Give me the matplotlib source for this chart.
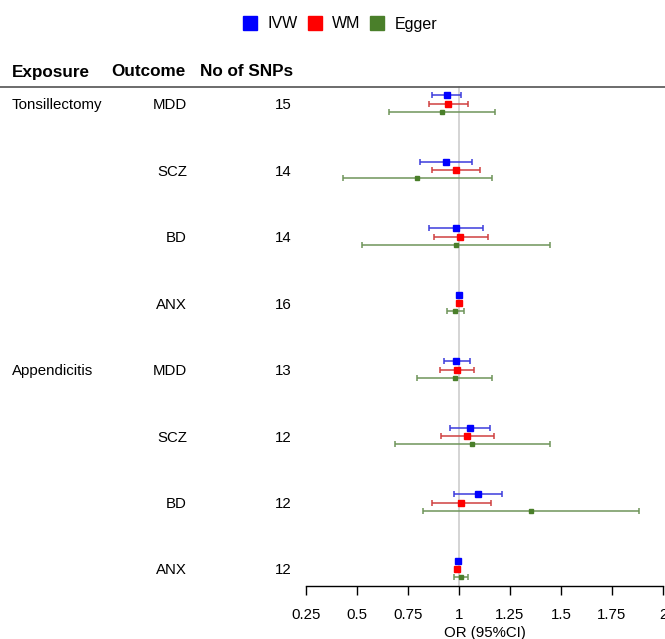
import matplotlib
matplotlib.use('Agg')
import matplotlib.pyplot as plt
from matplotlib.lines import Line2D
from matplotlib.transforms import blended_transform_factory, offset_copy

plt.rcParams['font.family'] = ['Liberation Sans', 'DejaVu Sans']

# --- data ---
exposures = ['Tonsillectomy', '', '', '', 'Appendicitis', '', '', '']
outcomes = ['MDD', 'SCZ', 'BD', 'ANX', 'MDD', 'SCZ', 'BD', 'ANX']
n_snps = [15, 14, 14, 16, 13, 12, 12, 12]

ivw_or = [0.94, 0.938, 0.984, 1.0, 0.987, 1.056, 1.095, 0.997]
ivw_lo = [0.87, 0.809, 0.851, 0.995, 0.925, 0.954, 0.977, 0.993]
ivw_hi = [1.01, 1.064, 1.116, 1.005, 1.052, 1.154, 1.209, 1.001]

wm_or = [0.945, 0.984, 1.007, 1.0, 0.992, 1.041, 1.012, 0.992]
wm_lo = [0.851, 0.866, 0.875, 0.995, 0.907, 0.914, 0.868, 0.985]
wm_hi = [1.043, 1.103, 1.141, 1.005, 1.074, 1.170, 1.159, 1.0]

egger_or = [0.918, 0.796, 0.984, 0.98, 0.979, 1.066, 1.355, 1.01]
egger_lo = [0.657, 0.431, 0.523, 0.94, 0.796, 0.686, 0.825, 0.975]
egger_hi = [1.176, 1.162, 1.445, 1.025, 1.162, 1.445, 1.881, 1.044]

methods = ['IVW', 'WM', 'Egger']
colors = ['#0000ff', '#ff0000', '#4a7f2a']
line_colors = ['#3c3cdc', '#d04040', '#6f955a']
offsets = [-0.125, 0.0, 0.125]
msizes = [3.9, 3.9, 3.4]

xticks = [0.25, 0.5, 0.75, 1, 1.25, 1.5, 1.75, 2]
xticklabels = ['0.25', '0.5', '0.75', '1', '1.25', '1.5', '1.75', '2']

W, H = 665, 639
fig = plt.figure(figsize=(W / 100, H / 100), dpi=100)

# forest axes placed in pixel terms
left, right, top, bottom = 306, 663, 86, 586
ax = fig.add_axes([left / W, 1 - bottom / H, (right - left) / W, (bottom - top) / H])

rows = list(range(len(outcomes)))
series = [(ivw_or, ivw_lo, ivw_hi), (wm_or, wm_lo, wm_hi), (egger_or, egger_lo, egger_hi)]

ax.axvline(1, color='#d4d4d4', lw=1.4, zorder=0)

for (est, lo, hi), c, lc, off, ms in zip(series, colors, line_colors, offsets, msizes):
    y = [r + off for r in rows]
    err = [[e - l for e, l in zip(est, lo)], [h - e for e, h in zip(est, hi)]]
    ax.errorbar(est, y, xerr=err, fmt='s', color=c, ecolor=lc, elinewidth=1.1,
                capsize=2.3, capthick=1.1, markersize=ms, zorder=3)

ax.set_xlim(0.25, 2)
ax.set_ylim(7.256, -0.266)
ax.set_xticks(xticks)
ax.set_xticklabels(xticklabels, fontsize=10.8)
ax.set_yticks([])
for s in ['top', 'left', 'right']:
    ax.spines[s].set_visible(False)
ax.spines['bottom'].set_linewidth(1.0)
ax.tick_params(axis='x', direction='out', length=6.5, width=1.0, pad=9.5)
ax.set_xlabel('OR (95%CI)', fontsize=10.8, labelpad=3)

# table columns (nudged down a touch so caps sit on the middle bar)
tr = offset_copy(blended_transform_factory(fig.transFigure, ax.transData),
                 fig=fig, y=-1.5, units='dots')
for r in rows:
    ax.text(12 / W, r, exposures[r], transform=tr, ha='left', va='center', fontsize=10.8)
    ax.text(187 / W, r, outcomes[r], transform=tr, ha='right', va='center', fontsize=10.8)
    ax.text(292 / W, r, str(n_snps[r]), transform=tr, ha='right', va='center', fontsize=10.8)

hy = 1 - 72 / H
fig.text(12 / W, hy, 'Exposure', ha='left', va='center', fontsize=12.3, fontweight='bold')
fig.text(111 / W, hy, 'Outcome', ha='left', va='center', fontsize=12.3, fontweight='bold')
fig.text(200 / W, hy, 'No of SNPs', ha='left', va='center', fontsize=12.3, fontweight='bold')
fig.add_artist(Line2D([0, 1], [1 - 86.5 / H, 1 - 86.5 / H], transform=fig.transFigure,
                      color='#606060', lw=1.3))

# legend
handles = [Line2D([], [], marker='s', ls='', color=c, markersize=10) for c in colors]
fig.legend(handles, methods, loc='center', bbox_to_anchor=(0.511, 1 - 24 / H), ncol=3,
           frameon=False, fontsize=11.5, handletextpad=0.6, columnspacing=0.6,
           handlelength=0.95)

plt.savefig('out.png', dpi=100)
plt.close()
